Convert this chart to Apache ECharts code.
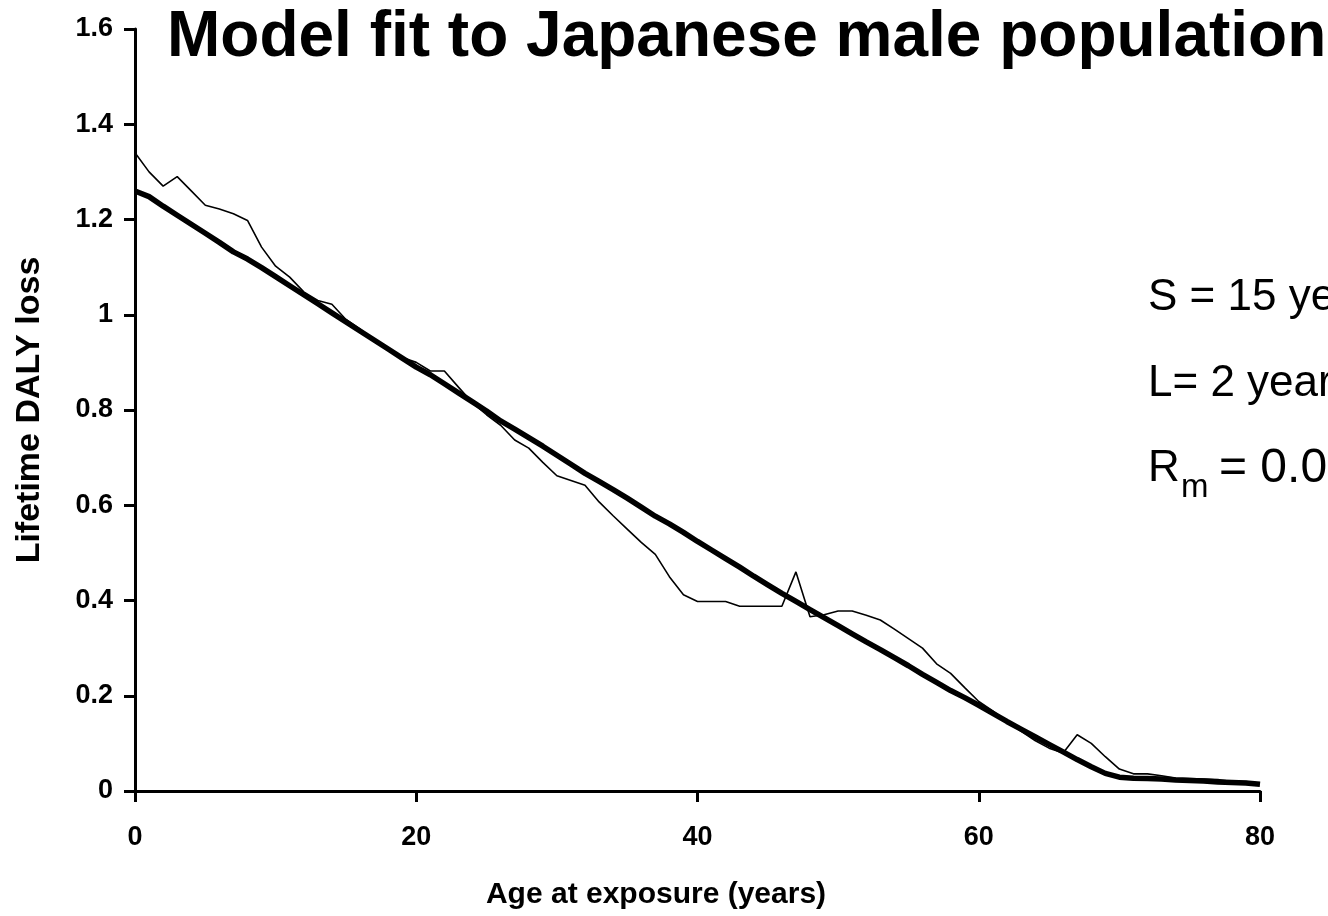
<!DOCTYPE html>
<html>
<head>
<meta charset="utf-8">
<script src="https://cdn.jsdelivr.net/npm/echarts@6/dist/echarts.min.js"></script>
<style>
html,body{margin:0;padding:0;background:#fff;}
#chart{width:1328px;height:916px;}
</style>
</head>
<body>
<div id="chart"></div>
<script>
const titleText = 'Model fit to Japanese male population';
const xAxisName = 'Age at exposure (years)';
const yAxisName = 'Lifetime DALY loss';
const annotS = 'S = 15 years';
const annotL = 'L= 2 years';

const ages = [0,1,2,3,4,5,6,7,8,9,10,11,12,13,14,15,16,17,18,19,20,21,22,23,24,25,26,27,28,29,30,31,32,33,34,35,36,37,38,39,40,41,42,43,44,45,46,47,48,49,50,51,52,53,54,55,56,57,58,59,60,61,62,63,64,65,66,67,68,69,70,71,72,73,74,75,76,77,78,79,80];

// observed (thin line)
const observed = [1.34,1.30,1.27,1.29,1.26,1.23,1.222,1.212,1.198,1.142,1.102,1.079,1.048,1.03,1.022,0.99,0.97,0.948,0.928,0.91,0.90,0.882,0.882,0.848,0.815,0.79,0.768,0.737,0.72,0.69,0.662,0.652,0.642,0.607,0.578,0.55,0.522,0.497,0.45,0.412,0.398,0.398,0.398,0.388,0.388,0.388,0.388,0.46,0.366,0.37,0.378,0.378,0.369,0.359,0.34,0.32,0.30,0.267,0.247,0.217,0.188,0.168,0.146,0.126,0.106,0.09,0.08,0.118,0.10,0.072,0.046,0.036,0.036,0.032,0.027,0.026,0.025,0.024,0.02,0.02,0.016];

// model fit (thick line)
const model = [1.26,1.248,1.228,1.209,1.19,1.171,1.152,1.132,1.117,1.099,1.080,1.061,1.042,1.023,1.004,0.985,0.966,0.947,0.928,0.909,0.89,0.874,0.855,0.836,0.817,0.798,0.777,0.76,0.742,0.724,0.705,0.686,0.667,0.65,0.633,0.615,0.596,0.577,0.561,0.543,0.524,0.506,0.488,0.47,0.451,0.433,0.415,0.398,0.381,0.364,0.347,0.330,0.313,0.297,0.280,0.263,0.245,0.228,0.211,0.196,0.18,0.163,0.146,0.130,0.114,0.098,0.082,0.066,0.051,0.037,0.029,0.027,0.026,0.025,0.023,0.022,0.021,0.019,0.018,0.017,0.014];

const xTicks = [0,20,40,60,80];
const yTicks = [0,0.2,0.4,0.6,0.8,1,1.2,1.4,1.6];

const FONT = '"Liberation Sans", Arial, Helvetica, sans-serif';

const chart = echarts.init(document.getElementById('chart'), null, {renderer:'canvas'});
const option = {
  backgroundColor: '#ffffff',
  animation: false,
  title: {
    text: titleText,
    left: 162,
    top: 1,
    textStyle: {fontFamily: FONT, fontWeight: 'bold', fontSize: 64, color: '#000'}
  },
  grid: {left: 135, right: 68, top: 29, bottom: 125, containLabel: false},
  xAxis: {
    type: 'value',
    min: xTicks[0], max: xTicks[xTicks.length-1], interval: 20,
    name: xAxisName,
    nameLocation: 'middle',
    nameGap: 89,
    nameTextStyle: {fontFamily: FONT, fontWeight: 'bold', fontSize: 30, color: '#000', padding: [0, 83, 0, 0]},
    axisLine: {show: true, onZero: false, lineStyle: {color: '#000', width: 3}},
    axisTick: {show: true, inside: false, length: 11, lineStyle: {color: '#000', width: 3}},
    axisLabel: {margin: 33, fontFamily: FONT, fontWeight: 'bold', fontSize: 27, color: '#000'},
    splitLine: {show: false}
  },
  yAxis: {
    type: 'value',
    min: yTicks[0], max: yTicks[yTicks.length-1], interval: 0.2,
    name: yAxisName,
    nameLocation: 'middle',
    nameGap: 88,
    nameTextStyle: {fontFamily: FONT, fontWeight: 'bold', fontSize: 34, color: '#000'},
    axisLine: {show: true, onZero: false, lineStyle: {color: '#000', width: 3}},
    axisTick: {show: true, inside: false, length: 11, lineStyle: {color: '#000', width: 3}},
    axisLabel: {margin: 22, fontFamily: FONT, fontWeight: 'bold', fontSize: 27, color: '#000',
      formatter: function(v){ return String(Math.round(v*10)/10); }},
    splitLine: {show: false}
  },
  series: [
    {
      name: 'Model',
      type: 'line',
      data: ages.map((a,i)=>[a, model[i]]),
      showSymbol: false,
      symbol: 'none',
      lineStyle: {color: '#000', width: 5.5},
      z: 2
    },
    {
      name: 'Observed',
      type: 'line',
      data: ages.map((a,i)=>[a, observed[i]]),
      showSymbol: false,
      symbol: 'none',
      lineStyle: {color: '#000', width: 1.6},
      z: 3
    }
  ],
  graphic: [
    {type:'text', left: 1148, top: 276, style:{text: annotS, font: '44px ' + FONT, fill:'#000'}},
    {type:'text', left: 1148, top: 362, style:{text: annotL, font: '44px ' + FONT, fill:'#000'}},
    {type:'text', left: 1148, top: 447, style:{text: 'R', font: '44px ' + FONT, fill:'#000'}},
    {type:'text', left: 1181, top: 471, style:{text: 'm', font: '33px ' + FONT, fill:'#000'}},
    {type:'text', left: 1219, top: 445, style:{text: '= 0.0', font: '48px ' + FONT, fill:'#000'}}
  ]
};
chart.setOption(option);
</script>
</body>
</html>
